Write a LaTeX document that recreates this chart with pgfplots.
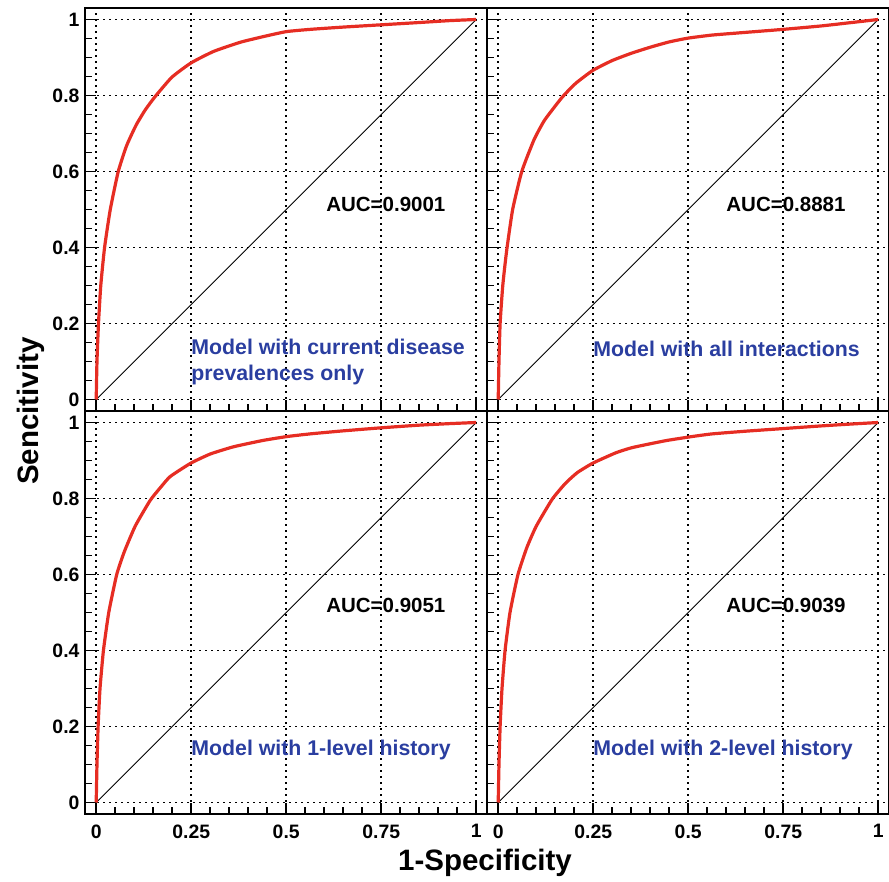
\documentclass[border=0pt]{standalone}
\usepackage{pgfplots}
\pgfplotsset{compat=1.18}
\usepackage{fontspec}
\setmainfont{Liberation Sans}
\definecolor{rocred}{RGB}{230,45,35}
\definecolor{txtblue}{RGB}{42,62,160}
\pgfplotsset{
  rocpanel/.style={
    scale only axis, width=402pt, height=403pt,
    xmin=-0.0295, xmax=1.0284, ymin=-0.03025, ymax=1.03025,
    xtick={0,0.25,0.5,0.75,1}, ytick={0,0.2,0.4,0.6,0.8,1},
    minor x tick num=4, minor y tick num=3,
    xtick pos=bottom, ytick pos=left,
    tick align=inside,
    major tick length=11pt, minor tick length=7pt,
    every tick/.style={black, line width=1.8pt},
    axis line style={black, line width=2pt},
    grid=major,
    major grid style={black, line width=1.5pt, dash pattern=on 1.5pt off 4.5pt},
    /pgf/number format/assume math mode=true,
    tick label style={font=\fontsize{19.4}{23}\selectfont\bfseries},
    yticklabel style={xshift=-2pt},
    xticklabel style={yshift=-7pt},
    xticklabels={0,0.25,0.5,0.75,1},
    yticklabels={0,0.2,0.4,0.6,0.8,1},
  },
  notx/.style={xticklabels={}},
  noty/.style={yticklabels={}},
  roc/.style={rocred, line width=3.2pt, smooth, tension=0.3},
  diag/.style={black, line width=0.8pt},
}
\tikzset{
  auc/.style={anchor=west, inner sep=0pt, font=\fontsize{20.5}{24}\selectfont\bfseries},
  mdl/.style={anchor=west, inner sep=0pt, align=left, text=txtblue, font=\fontsize{21.3}{26}\selectfont\bfseries},
}
\begin{document}
\begin{tikzpicture}
\useasboundingbox (0pt,0pt) rectangle (889pt,881pt);
% top-left
\begin{axis}[rocpanel, notx, at={(85pt,470pt)}, anchor=south west]
\addplot[diag] coordinates {(0,0) (1,1)};
\addplot[roc] coordinates {
(0,0) (0.002,0.1) (0.006,0.2) (0.012,0.3) (0.022,0.4) (0.037,0.5) (0.058,0.6) (0.08,0.668) (0.105,0.722) (0.129,0.762) (0.155,0.797) (0.199,0.848) (0.25,0.886) (0.309,0.916) (0.379,0.940) (0.44,0.955) (0.5,0.968) (0.563,0.974) (0.65,0.980) (0.75,0.986) (0.85,0.992) (0.93,0.997) (1,1)};
\node[auc] at (axis cs:0.605,0.513) {AUC=0.9001};
\node[mdl] at (axis cs:0.25,0.10) {Model with current disease\\prevalences only};
\end{axis}
% top-right
\begin{axis}[rocpanel, notx, noty, at={(487pt,470pt)}, anchor=south west]
\addplot[diag] coordinates {(0,0) (1,1)};
\addplot[roc] coordinates {
(0,0) (0.002,0.1) (0.005,0.2) (0.012,0.3) (0.022,0.39) (0.038,0.5) (0.062,0.6) (0.094,0.683) (0.122,0.735) (0.168,0.795) (0.204,0.832) (0.249,0.866) (0.3,0.892) (0.35,0.911) (0.4,0.927) (0.45,0.941) (0.5,0.951) (0.563,0.959) (0.65,0.966) (0.75,0.974) (0.85,0.983) (0.93,0.992) (1,1)};
\node[auc] at (axis cs:0.600,0.513) {AUC=0.8881};
\node[mdl] at (axis cs:0.25,0.134) {Model with all interactions};
\end{axis}
% bottom-left
\begin{axis}[rocpanel, at={(85pt,67pt)}, anchor=south west]
\addplot[diag] coordinates {(0,0) (1,1)};
\addplot[roc] coordinates {
(0,0) (0.002,0.1) (0.005,0.2) (0.01,0.3) (0.019,0.4) (0.033,0.5) (0.054,0.6) (0.074,0.66) (0.103,0.728) (0.142,0.795) (0.17,0.83) (0.195,0.858) (0.249,0.893) (0.3,0.917) (0.361,0.936) (0.44,0.953) (0.502,0.963) (0.563,0.970) (0.65,0.978) (0.75,0.986) (0.85,0.993) (0.93,0.997) (1,1)};
\node[auc] at (axis cs:0.605,0.518) {AUC=0.9051};
\node[mdl] at (axis cs:0.25,0.139) {Model with 1-level history};
\end{axis}
% bottom-right
\begin{axis}[rocpanel, noty, at={(487pt,67pt)}, anchor=south west]
\addplot[diag] coordinates {(0,0) (1,1)};
\addplot[roc] coordinates {
(0,0) (0.002,0.1) (0.005,0.2) (0.01,0.3) (0.018,0.4) (0.031,0.5) (0.052,0.6) (0.075,0.67) (0.1,0.727) (0.142,0.798) (0.177,0.84) (0.208,0.868) (0.249,0.893) (0.309,0.920) (0.353,0.934) (0.44,0.952) (0.51,0.963) (0.563,0.970) (0.65,0.977) (0.75,0.984) (0.85,0.991) (0.93,0.996) (1,1)};
\node[auc] at (axis cs:0.600,0.518) {AUC=0.9039};
\node[mdl] at (axis cs:0.25,0.139) {Model with 2-level history};
\end{axis}
\node[anchor=base, inner sep=0pt] at (485pt,11pt) {\fontsize{29.5}{34}\selectfont\bfseries 1-Specificity};
\node[anchor=base, rotate=90, inner sep=0pt] at (38pt,470pt) {\fontsize{29.5}{34}\selectfont\bfseries Sencitivity};
\end{tikzpicture}
\end{document}
